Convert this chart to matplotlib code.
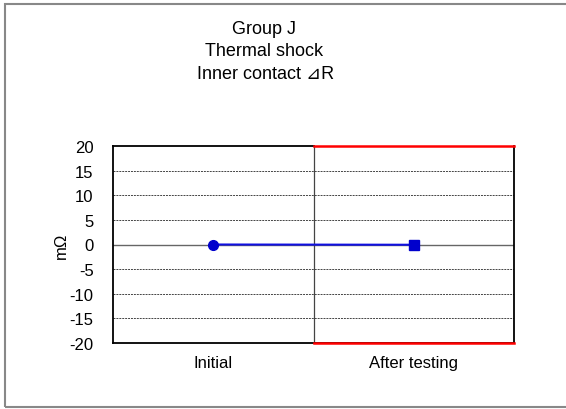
import matplotlib
matplotlib.use("Agg")
import matplotlib.pyplot as plt
from matplotlib.patches import Rectangle

categories = ["Initial", "After testing"]
values = [0.0, -0.05]
yticks = [-20, -15, -10, -5, 0, 5, 10, 15, 20]
limit_upper = 20
limit_lower = -20
title_lines = ["Group J", "Thermal shock", "Inner contact \u22bfR"]
ylabel = "m\u03a9"

plt.rcParams['font.family'] = ['Liberation Sans', 'DejaVu Sans']
plt.rcParams['axes.unicode_minus'] = False

W, H = 566, 410
fig = plt.figure(figsize=(W / 100, H / 100), dpi=100)
ax = fig.add_axes([113 / W, 1 - 344 / H, (514 - 113) / W, (344 - 147) / H])

x = list(range(len(categories)))
ax.set_xlim(-0.5, len(categories) - 0.5)
ax.set_ylim(-20, 20)

# gridlines
for t in yticks:
    if t == 0:
        ax.axhline(t, color="#666666", lw=1.0, zorder=1)
    elif t not in (-20, 20):
        ax.axhline(t, color="#444444", lw=0.7, ls=(0, (2, 1)), zorder=1)

# divider
ax.axvline(0.5, color="#444444", lw=0.9, zorder=1)

# spec limits on right half
ax.plot([0.5, 1.5], [limit_upper, limit_upper], color="red", lw=1.8, zorder=4, clip_on=False)
ax.plot([0.5, 1.5], [limit_lower, limit_lower], color="red", lw=1.8, zorder=4, clip_on=False)

ax.plot(x, values, color="#1010e0", lw=1.5, zorder=5)
ax.plot([x[0]], [values[0]], marker="o", ms=7, color="#0000cc", ls="none", zorder=6)
ax.plot([x[1]], [values[1]], marker="s", ms=7, color="#0000cc", ls="none", zorder=6)

for s in ax.spines.values():
    s.set_color("black")
    s.set_linewidth(1.3)
ax.spines["top"].set_visible(False)
ax.plot([-0.5, 0.5], [20, 20], color="black", lw=1.3, clip_on=False, zorder=3)

ax.set_yticks(yticks)
ax.set_xticks(x)
ax.set_xticklabels(categories, fontsize=12)
ax.tick_params(axis="both", length=0, labelsize=12)
ax.tick_params(axis="x", pad=9)
ax.tick_params(axis="y", pad=14)
ax.set_ylabel(ylabel, fontsize=12)
ax.yaxis.set_label_coords(-0.11, 0.5)

for i, line in enumerate(title_lines[:2]):
    fig.text(264 / W, 1 - (29 + 23 * i) / H, line, ha="center", va="center", fontsize=13)
fig.text(266 / W, 1 - (29 + 46) / H, title_lines[2], ha="center", va="center", fontsize=13,
         family=['Liberation Sans', 'DejaVu Sans'])

fig.patches.append(Rectangle((5 / W, 2 / H), 1.0, (408 - 5) / H, transform=fig.transFigure,
                             fill=False, edgecolor="#888888", lw=1.5))

fig.savefig("out.png", dpi=100)
